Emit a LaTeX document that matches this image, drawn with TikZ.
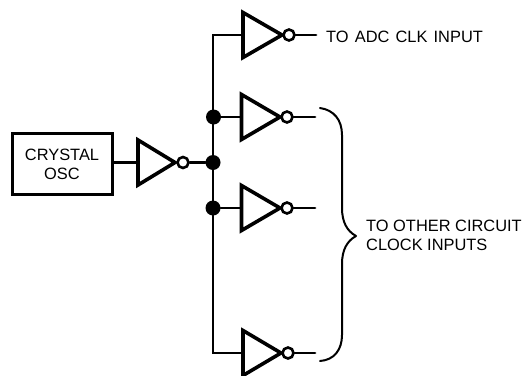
\documentclass[tikz,border=0pt]{standalone}
\usepackage{fontspec}
\setmainfont{Liberation Sans}
\tikzset{
  wire/.style={line width=2.8pt,line cap=round},
  gate/.style={line width=3.6pt,line join=miter,miter limit=3},
  boxnode/.style={draw,line width=3pt,minimum width=100pt,minimum height=61pt,inner sep=0pt},
  bubble/.style={draw,circle,line width=2.6pt,fill=white,minimum size=11pt,inner sep=0pt},
  jdot/.style={circle,fill=black,minimum size=15pt,inner sep=0pt},
  lab/.style={font=\fontsize{16.4pt}{19pt}\selectfont,inner sep=0pt,align=left},
  bracestroke/.style={line width=2pt,line cap=round,line join=round}
}
% name, left x, centre y, half height, tip x, bubble x
\newcommand{\invgate}[6]{%
  \coordinate (#1i) at (#2,#3);
  \draw[gate] (#2,#3-#4) -- (#5,#3) -- (#2,#3+#4) -- cycle;
  \node[bubble] (#1b) at (#6,#3) {};
}
\begin{document}
\begin{tikzpicture}[x=1pt,y=-1pt]
\useasboundingbox (0,0) rectangle (524,375);
\node[boxnode] (osc) at (62.5,164) {};
\node[lab,align=center,anchor=center] (osctxt) at (62,164.5) {CRYSTAL\\OSC};
\invgate{a}{138}{162.5}{22.5}{175}{183}
\invgate{b}{243}{35}{22.5}{282}{289}
\invgate{c}{241.5}{117}{22.5}{280}{287}
\invgate{d}{241.5}{208}{22.5}{280}{287}
\invgate{e}{243}{353}{22.5}{281}{288}
\node[jdot] (j1) at (213,162.5) {};
\node[jdot] (j2) at (213.5,117) {};
\node[jdot] (j3) at (213,208) {};
\coordinate (top) at (213,35);
\coordinate (bot) at (213,353);
\coordinate (bo) at (316,35);
\coordinate (co) at (315,117);
\coordinate (do) at (315,208);
\coordinate (eo) at (315,353);
\draw[wire] (osc.east |- ai) -- (ai);
\draw[wire] (ab) -- (j1);
\draw[wire,line join=miter] (bi) -- (top) -- (bot) -- (ei);
\draw[wire] (j2) -- (ci);
\draw[wire] (j3) -- (di);
\draw[wire] (bb) -- (bo);
\draw[wire] (cb) -- (co);
\draw[wire] (db) -- (do);
\draw[wire] (eb) -- (eo);
\node[lab,anchor=base west] (t1) at (326,42) {TO\hspace{1.6pt} ADC\hspace{1.6pt} CLK\hspace{1.6pt} INPUT};
\node[lab,anchor=base west] (t2) at (366,231) {TO OTHER CIRCUIT};
\node[lab,anchor=base west] (t3) at (366,250) {CLOCK INPUTS};
\coordinate (bs) at (320,108);
\coordinate (bt) at (356,236);
\coordinate (be) at (320,361);
\draw[bracestroke] (bs) .. controls (334,110) and (342,120) .. (342,135)
  -- (342,208) .. controls (342,222) and (347,231) .. (bt)
  .. controls (347,241) and (342,250) .. (342,264)
  -- (342,335) .. controls (342,350) and (334,360) .. (be);
\end{tikzpicture}
\end{document}
